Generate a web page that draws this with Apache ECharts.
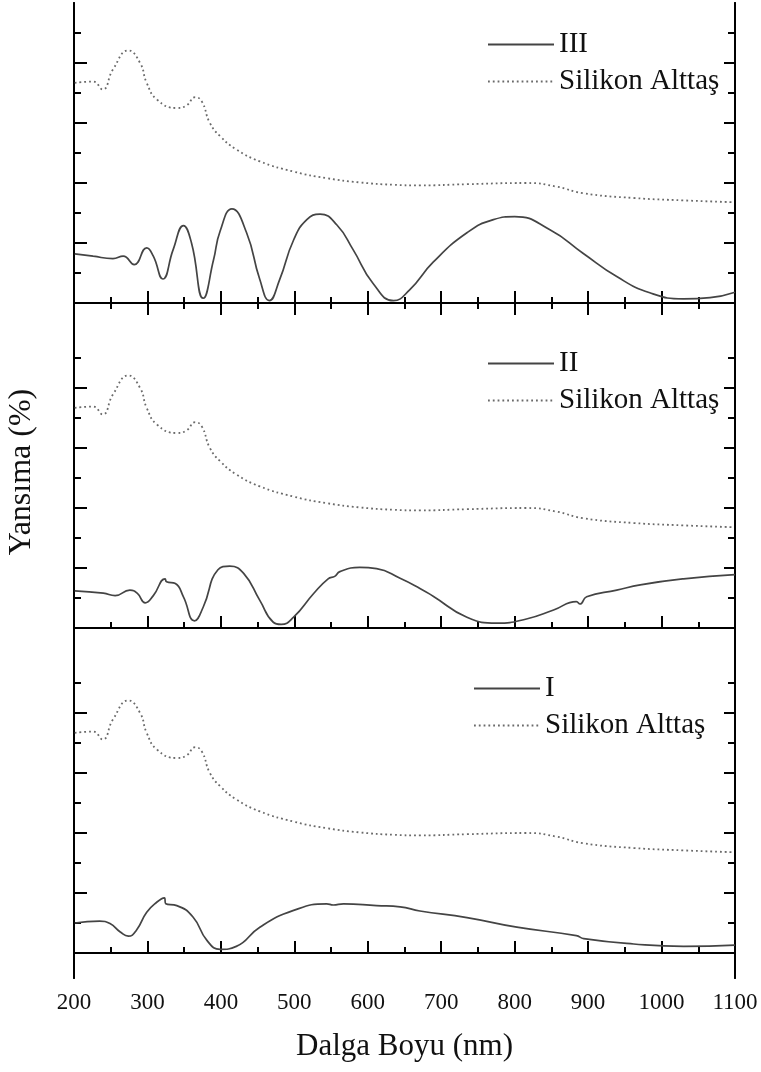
<!DOCTYPE html>
<html><head><meta charset="utf-8">
<script src="https://cdn.jsdelivr.net/npm/echarts@6/dist/echarts.min.js"></script>
<style>html,body{margin:0;padding:0;background:#fff}#c{width:761px;height:1072px}</style>
</head><body><div id="c"></div>
<script>
// ---- data (wavelength nm, reflectance in arbitrary panel units) ----
const panelNames = ['III', 'II', 'I'];
const substrateName = 'Silikon Alttaş';
const xTitle = 'Dalga Boyu (nm)';
const yTitle = 'Yansıma (%)';
const xMin = 200, xMax = 1100, xStep = 100;

const silicon = [
  [201,36.7],[226,36.9],[239,35.6],[253,38.9],[274,42.1],[290,40.0],[299,36.7],[313,33.9],
  [340,32.5],[353,32.9],[365,34.3],[374,33.6],[385,30.0],[399,27.8],[421,25.6],[453,23.6],
  [499,21.9],[544,20.8],[589,20.1],[635,19.7],[671,19.6],[735,19.8],[816,20.0],[857,19.4],
  [893,18.3],[962,17.5],[1030,17.1],[1098,16.8]
];
const sampleIII = [
  [201,8.2],[226,7.8],[253,7.4],[267,7.8],[282,6.4],[299,9.2],[308,7.8],[321,4.0],[335,8.9],
  [349,12.9],[360,10.0],[376,0.8],[390,7.2],[399,12.0],[415,15.7],[435,11.7],[453,3.9],[466,0.4],
  [480,3.9],[499,10.5],[517,13.9],[535,14.8],[558,13.0],[580,8.9],[607,3.3],[635,0.4],[657,2.2],
  [689,6.8],[735,11.7],[771,13.9],[800,14.4],[848,12.2],[893,8.3],[939,4.4],[984,1.7],
  [1030,0.7],[1066,0.9],[1100,1.8]
];
const sampleII = [
  [201,6.2],[240,5.8],[256,5.4],[276,6.3],[286,5.8],[297,4.2],[308,5.4],[324,8.2],[326,7.7],
  [338,7.4],[349,5.2],[364,1.2],[376,3.5],[396,9.7],[412,10.3],[431,9.1],[453,4.6],[471,1.0],
  [482,0.6],[499,1.8],[526,5.7],[546,8.2],[555,8.6],[562,9.4],[589,10.1],[612,9.9],[644,8.3],
  [671,6.6],[689,5.3],[735,1.8],[776,0.8],[816,1.5],[853,3.0],[884,4.4],[889,4.0],[898,5.2],
  [939,6.3],[971,7.2],[1030,8.2],[1100,8.9]
];
const sampleI = [
  [201,5.0],[235,5.3],[249,4.9],[263,3.5],[274,2.8],[285,3.8],[299,6.8],[313,8.5],[323,9.2],
  [325,8.2],[340,7.9],[362,6.0],[381,2.1],[399,0.6],[421,1.1],[453,4.3],[499,7.1],[544,8.2],
  [553,8.0],[567,8.2],[612,7.9],[644,7.7],[671,7.0],[735,5.9],[803,4.3],[884,2.9],[894,2.4],
  [962,1.5],[1030,1.1],[1100,1.3]
];
const samples = [sampleIII, sampleII, sampleI];
const longTicks = [0, 10, 20, 30, 40];
const shortTicks = [5, 15, 25, 35, 45];
const yMin = -25 / 6, yMax = 50;

// ---- layout ----
const FONT = 'Liberation Serif, Times New Roman, serif';
const gridTops = [3, 328, 653];
const gridH = 325;
const legendPos = [{left: 487, top: 30}, {left: 487, top: 349}, {left: 473, top: 674}];

const grid = [], xAxis = [], yAxis = [], series = [], legend = [];
const axisLine = {show: true, lineStyle: {color: '#000', width: 2}};
gridTops.forEach((top, i) => {
  grid.push({left: 74, right: 26, top: top, height: gridH});
  const last = i === 2;
  xAxis.push({
    gridIndex: i, type: 'value', position: 'bottom', min: xMin, max: xMax, interval: xStep,
    axisLine: axisLine,
    axisTick: {show: true, inside: true, length: 12, lineStyle: {color: '#000', width: 2}},
    minorTick: {show: true, splitNumber: 2, length: 6, lineStyle: {color: '#000', width: 2}},
    axisLabel: {show: last, margin: 13, fontFamily: FONT, fontSize: 23, color: '#111',
      formatter: v => String(v)},
    splitLine: {show: false},
    name: last ? xTitle : '', nameLocation: 'middle', nameGap: 53,
    nameTextStyle: {fontFamily: FONT, fontSize: 31, color: '#111'}
  });
  xAxis.push({
    gridIndex: i, type: 'value', position: 'top', min: xMin, max: xMax, interval: xStep,
    axisLine: axisLine,
    axisTick: {show: i === 0, inside: true, length: 12, lineStyle: {color: '#000', width: 2}},
    minorTick: {show: i === 0, splitNumber: 2, length: 6, lineStyle: {color: '#000', width: 2}},
    axisLabel: {show: false}, splitLine: {show: false}
  });
  [['left', longTicks, 13], ['left', shortTicks, 7], ['right', longTicks, 11], ['right', shortTicks, 7]].forEach(([pos, vals, len]) => {
    yAxis.push({
      gridIndex: i, type: 'value', position: pos, min: yMin, max: yMax,
      axisLine: axisLine,
      axisTick: {show: true, inside: true, length: len, customValues: vals, lineStyle: {color: '#000', width: 2}},
      axisLabel: {show: false}, splitLine: {show: false}
    });
  });
  series.push({
    name: panelNames[i], type: 'line', xAxisIndex: 2 * i, yAxisIndex: 4 * i,
    data: samples[i], symbol: 'none', smooth: 0.5,
    lineStyle: {color: '#444', width: 1.7, type: 'solid'}, itemStyle: {color: '#444'},
    silent: true, animation: false
  });
  series.push({
    name: substrateName, type: 'line', xAxisIndex: 2 * i, yAxisIndex: 4 * i,
    data: silicon, symbol: 'none', smooth: 0.5,
    lineStyle: {color: '#6a6a6a', width: 1.8, type: [1.8, 3]}, itemStyle: {color: '#6a6a6a'},
    silent: true, animation: false
  });
  legend.push({
    left: legendPos[i].left, top: legendPos[i].top, orient: 'vertical', padding: 0,
    itemWidth: 66, itemHeight: 14, itemGap: 8, selectedMode: false,
    data: [panelNames[i], substrateName],
    itemStyle: {opacity: 0, color: 'rgba(0,0,0,0)', borderWidth: 0},
    textStyle: {fontFamily: FONT, fontSize: 29, color: '#111'}
  });
});

const chart = echarts.init(document.getElementById('c'), null, {renderer: 'canvas'});
chart.setOption({
  backgroundColor: '#fff', animation: false,
  grid, xAxis, yAxis, series, legend,
  graphic: [{
    type: 'text', x: 22, y: 472, rotation: Math.PI / 2,
    style: {text: yTitle, fontFamily: FONT, fontSize: 32, fill: '#111', align: 'center', verticalAlign: 'middle'}
  }]
});
</script></body></html>
